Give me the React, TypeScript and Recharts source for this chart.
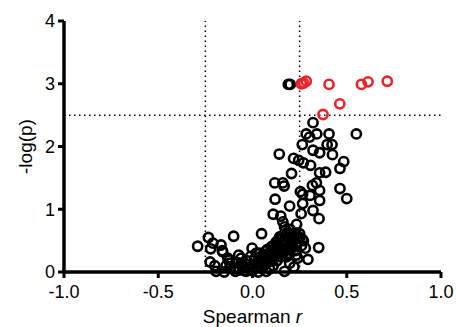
import React from "react";
import { ReferenceLine, Scatter, ScatterChart, XAxis, YAxis } from "recharts";

// tick values
const xTicks = [-1, -0.5, 0, 0.5, 1];
const yTicks = [0, 1, 2, 3, 4];

// cut-offs drawn as dotted lines
const rCutoffs = [-0.25, 0.25];
const pCutoff = 2.5;

// not significant (black)
const blackR = [
  0.19, 0.2, 0.321, 0.285, 0.303, 0.341, 0.406, 0.551, 0.264, 0.396, 0.422, 0.321, 0.356, 0.424,
  0.142, 0.218, 0.245, 0.27, 0.308, 0.484, 0.464, 0.207, 0.356, 0.388, 0.118, 0.161, 0.168,
  0.318, 0.339, 0.356, 0.254, 0.266, 0.305, 0.464, 0.5, 0.12, 0.197, 0.266, 0.356, 0.321,
  0.258, 0.11, 0.15, 0.353, 0.161, 0.17, 0.234, 0.176, 0.197, 0.223, 0.25, 0.264, 0.048,
  -0.1, -0.234, -0.291, -0.222, -0.167, -0.16, 0.351, -0.002, -0.225, -0.2, -0.193, -0.131,
  -0.117, -0.073, -0.06, -0.09, -0.034, 0.17, 0.197, 0.232, 0.294, 0.073, 0.037, 0.073, 0.099,
  0.126, 0.144, -0.21, -0.158, -0.122,
  -0.1, -0.08, -0.07, -0.06, -0.05, -0.04, -0.03, -0.02, -0.01, 0.0, 0.0, 0.01, 0.02, 0.02,
  0.03, 0.03, 0.04, 0.05, 0.05, 0.06, 0.06, 0.07, 0.08, 0.08, 0.09, 0.09, 0.1, 0.1, 0.11,
  0.11, 0.12, 0.12, 0.13, 0.13, 0.14, 0.14, 0.15, 0.15, 0.16, 0.16, 0.17, 0.17, 0.18, 0.18,
  0.19, 0.19, 0.2, 0.2, 0.21, 0.21, 0.22, 0.23, 0.24, 0.25, 0.26, 0.27, 0.28, -0.14, -0.15,
  -0.12, 0.24, 0.22,
  0.15, 0.17, 0.19, 0.21, 0.23, 0.12, 0.14, 0.16, 0.18, 0.2, 0.04, 0.06, 0.08, 0.1, 0.13,
];
const blackLogP = [
  2.99, 2.99, 2.38, 2.2, 2.15, 2.2, 2.2, 2.2, 2.03, 2.03, 2.03, 1.94, 1.9, 1.87, 1.88, 1.81,
  1.78, 1.74, 1.7, 1.76, 1.65, 1.57, 1.58, 1.59, 1.42, 1.42, 1.37, 1.38, 1.42, 1.3, 1.28, 1.24,
  1.22, 1.33, 1.17, 1.16, 1.05, 1.09, 1.14, 0.98, 0.93, 0.92, 0.89, 0.85, 0.8, 0.72, 0.76,
  0.67, 0.61, 0.61, 0.61, 0.52, 0.61, 0.57, 0.55, 0.41, 0.37, 0.43, 0.34, 0.39, 0.38, 0.16,
  0.1, 0.01, 0.22, 0.08, 0.27, 0.14, 0.01, 0.01, 0.01, 0.14, 0.27, 0.2, 0.01, 0.3, 0.34, 0.4,
  0.48, 0.56, 0.46, 0.32, 0.19,
  0.05, 0.15, 0.03, 0.22, 0.1, 0.02, 0.18, 0.07, 0.25, 0.12, 0.02, 0.2, 0.08, 0.3, 0.14, 0.0,
  0.24, 0.06, 0.18, 0.28, 0.1, 0.22, 0.15, 0.36, 0.05, 0.27, 0.18, 0.33, 0.42, 0.1, 0.26,
  0.37, 0.46, 0.18, 0.32, 0.52, 0.4, 0.24, 0.47, 0.58, 0.35, 0.52, 0.62, 0.44, 0.55, 0.3, 0.5,
  0.68, 0.58, 0.4, 0.52, 0.62, 0.48, 0.55, 0.42, 0.5, 0.38, 0.1, 0.0, 0.14, 0.22, 0.08,
  0.3, 0.44, 0.36, 0.46, 0.34, 0.3, 0.4, 0.3, 0.24, 0.35, 0.14, 0.2, 0.24, 0.22, 0.28,
];

// significant (red)
const redR = [0.259, 0.271, 0.285, 0.406, 0.463, 0.374, 0.578, 0.613, 0.715];
const redLogP = [3.0, 3.01, 3.04, 2.99, 2.68, 2.51, 2.99, 3.03, 3.04];

const blackData = blackR.map((r, i) => ({ r, p: blackLogP[i] }));
const redData = redR.map((r, i) => ({ r, p: redLogP[i] }));

const font = "Arial, 'Liberation Sans', sans-serif";

const ring = (color: string) => (props: any) =>
  <circle cx={props.cx} cy={props.cy} r={4.6} fill="none" stroke={color} strokeWidth={2.6} />;

const XLabel = (props: any) => {
  const vb = props.viewBox;
  return (
    <text x={vb.x + vb.width / 2} y={vb.y + 51} textAnchor="middle" fontSize={19} fontFamily={font} fill="#000">
      <tspan>Spearman </tspan>
      <tspan fontStyle="italic">r</tspan>
    </text>
  );
};

const YLabel = (props: any) => {
  const vb = props.viewBox;
  const cy = vb.y + vb.height / 2;
  return (
    <text x={25} y={cy} transform={`rotate(-90, 25, ${cy})`} textAnchor="middle" dominantBaseline="central"
      fontSize={19} fontFamily={font} fill="#000">
      -log(p)
    </text>
  );
};

export default function App() {
  return (
    <div style={{ position: "absolute", left: 0, top: 0 }}>
      <ScatterChart width={456} height={327} margin={{ top: 21, right: 15, bottom: 0, left: 0 }}>
        <XAxis
          type="number"
          dataKey="r"
          domain={[-1, 1]}
          ticks={xTicks}
          tickFormatter={(v: number) => v.toFixed(1)}
          height={55}
          tickSize={6}
          tickMargin={7}
          axisLine={{ stroke: "#000", strokeWidth: 3.5 }}
          tickLine={{ stroke: "#000", strokeWidth: 3 }}
          tick={{ fill: "#000", fontSize: 18, fontFamily: font }}
          label={<XLabel />}
        />
        <YAxis
          type="number"
          dataKey="p"
          domain={[0, 4]}
          ticks={yTicks}
          width={64}
          tickSize={6}
          tickMargin={3}
          axisLine={{ stroke: "#000", strokeWidth: 3.5 }}
          tickLine={{ stroke: "#000", strokeWidth: 3 }}
          tick={{ fill: "#000", fontSize: 18, fontFamily: font }}
          label={<YLabel />}
        />
        {rCutoffs.map((c) => (
          <ReferenceLine key={c} x={c} stroke="#000" strokeWidth={1.5} strokeDasharray="1.5 3.5" />
        ))}
        <ReferenceLine y={pCutoff} stroke="#000" strokeWidth={1.5} strokeDasharray="1.5 3.5" />
        <Scatter data={blackData} shape={ring("#000")} isAnimationActive={false} />
        <Scatter data={redData} shape={ring("#e8252b")} isAnimationActive={false} />
      </ScatterChart>
    </div>
  );
}
